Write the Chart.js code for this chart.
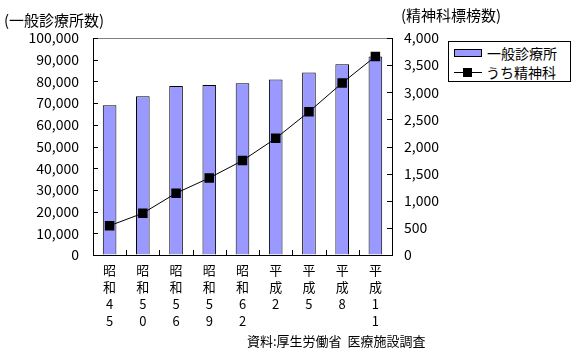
<!DOCTYPE html>
<html>
<head>
<meta charset="utf-8">
<script src="https://cdn.jsdelivr.net/npm/chart.js@4"></script>
<style>
  html, body { margin: 0; padding: 0; background: #fff; }
  #wrap { position: relative; width: 578px; height: 353px; font-family: "Noto Sans CJK JP", sans-serif; color: #000; }
  #c { position: absolute; left: 0; top: 0; }
  .ttl { position: absolute; font-size: 15px; line-height: 16px; white-space: nowrap; }
  #legend { position: absolute; left: 448px; top: 41px; width: 121px; height: 39px; border: 1px solid #000; background: #fff; font-size: 14px; }
  .lg-row { position: absolute; left: 5px; height: 18px; display: flex; align-items: center; white-space: nowrap; }
  .sw-bar { width: 26px; height: 6px; background: #9999ff; border: 1px solid #000; margin-right: 5px; }
  .sw-line { position: relative; width: 28px; height: 10px; margin-right: 4px; }
  .sw-line::before { content: ""; position: absolute; left: 0; right: 0; top: 5px; border-top: 1px solid #000; }
  .sw-line::after { content: ""; position: absolute; left: 9px; top: 1px; width: 9px; height: 9px; background: #000; }
</style>
</head>
<body>
<div id="wrap">
  <canvas id="c" width="578" height="353"></canvas>
  <div class="ttl" style="left:4px; top:12px;">(一般診療所数)</div>
  <div class="ttl" style="left:401px; top:7px;">(精神科標榜数)</div>
  <div id="legend">
    <div class="lg-row" style="top:2px;"><div class="sw-bar"></div>一般診療所</div>
    <div class="lg-row" style="top:21px;"><div class="sw-line"></div>うち精神科</div>
  </div>
  <div class="ttl" style="left:247px; top:333px; font-size:13px;">資料:厚生労働省&nbsp;&nbsp;医療施設調査</div>
</div>
<script>
// 年次（和暦、縦書き）
const LABELS = [
  ['昭', '和', '4', '5'],
  ['昭', '和', '5', '0'],
  ['昭', '和', '5', '6'],
  ['昭', '和', '5', '9'],
  ['昭', '和', '6', '2'],
  ['平', '成', '2'],
  ['平', '成', '5'],
  ['平', '成', '8'],
  ['平', '成', '1', '1']
];
// 一般診療所数
const CLINICS = [69000, 73100, 77900, 78300, 79100, 80900, 84100, 87900, 91500];
// うち精神科（標榜数）
const PSYCH = [540, 770, 1140, 1420, 1740, 2150, 2640, 3170, 3660];

const LEFT_MAX = 100000, LEFT_STEP = 10000;
const RIGHT_MAX = 4000, RIGHT_STEP = 500;

const fmt = v => v.toLocaleString('en-US');

// inward tick marks + grey top border
const innerTicks = {
  id: 'innerTicks',
  afterDraw(chart) {
    const { ctx, chartArea: a, scales } = chart;
    ctx.save();
    ctx.strokeStyle = '#808080';
    ctx.lineWidth = 1;
    ctx.beginPath();
    ctx.moveTo(a.left, a.top + 0.5);
    ctx.lineTo(a.right, a.top + 0.5);
    ctx.stroke();
    ctx.strokeStyle = '#000';
    ctx.beginPath();
    scales.y.ticks.forEach((t, i) => {
      const py = Math.round(scales.y.getPixelForTick(i)) + 0.5;
      ctx.moveTo(a.left, py); ctx.lineTo(a.left + 5, py);
    });
    scales.y2.ticks.forEach((t, i) => {
      const py = Math.round(scales.y2.getPixelForTick(i)) + 0.5;
      ctx.moveTo(a.right, py); ctx.lineTo(a.right - 5, py);
    });
    for (let i = 1; i < LABELS.length; i++) {
      const px = Math.round((scales.x.getPixelForTick(i - 1) + scales.x.getPixelForTick(i)) / 2) + 0.5;
      ctx.moveTo(px, a.bottom); ctx.lineTo(px, a.bottom - 5);
    }
    ctx.stroke();
    ctx.restore();
  }
};

new Chart(document.getElementById('c'), {
  data: {
    labels: LABELS,
    datasets: [
      {
        type: 'line', label: 'うち精神科', data: PSYCH, yAxisID: 'y2',
        borderColor: '#000', borderWidth: 1, tension: 0,
        pointStyle: 'rect', pointRadius: 6.7, pointBackgroundColor: '#000', pointBorderWidth: 0,
        order: 0
      },
      {
        type: 'bar', label: '一般診療所', data: CLINICS, yAxisID: 'y',
        backgroundColor: '#9999ff', borderColor: '#000', borderWidth: 1,
        barPercentage: 0.41, categoryPercentage: 1, order: 1
      }
    ]
  },
  options: {
    responsive: false, animation: false,
    layout: { padding: { top: 38, left: 0, right: 0, bottom: 0 } },
    plugins: { legend: { display: false }, tooltip: { enabled: false } },
    scales: {
      x: {
        grid: { display: true, drawOnChartArea: false, drawTicks: false },
        border: { color: '#000', width: 1 },
        ticks: { color: '#000', padding: 6, maxRotation: 0, autoSkip: false,
          font: { family: '"Noto Sans CJK JP", sans-serif', size: 13, lineHeight: 1.33 } },
        afterFit: s => { s.height = 98; }
      },
      y: {
        position: 'left', min: 0, max: LEFT_MAX,
        grid: { display: true, drawOnChartArea: false, drawTicks: false },
        border: { color: '#000', width: 1 },
        ticks: { stepSize: LEFT_STEP, color: '#000', padding: 14, callback: v => fmt(v),
          font: { family: '"Noto Sans CJK JP", sans-serif', size: 14 } },
        afterFit: s => { s.width = 93; }
      },
      y2: {
        position: 'right', min: 0, max: RIGHT_MAX,
        grid: { display: true, drawOnChartArea: false, drawTicks: false },
        border: { color: '#000', width: 1 },
        ticks: { stepSize: RIGHT_STEP, color: '#000', padding: 12, callback: v => fmt(v),
          font: { family: '"Noto Sans CJK JP", sans-serif', size: 14 } },
        afterFit: s => { s.width = 186; }
      }
    }
  },
  plugins: [innerTicks]
});
</script>
</body>
</html>
